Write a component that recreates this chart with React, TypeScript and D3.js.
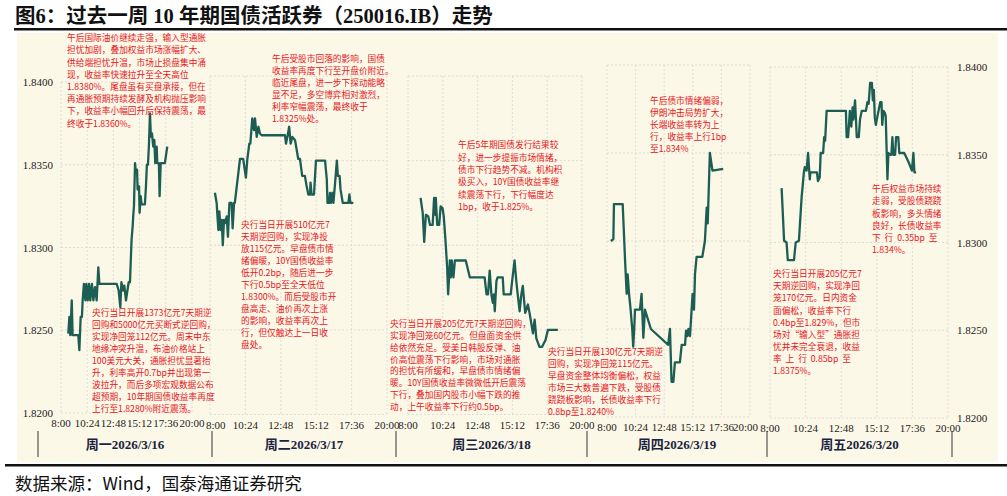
import React from 'react';
import * as d3 from 'd3';

type Pt = [string, number];

const yTicks = [1.82, 1.825, 1.83, 1.835, 1.84];
const xTickLabels = ['8:00', '10:24', '12:48', '15:12', '17:36', '20:00'];
const xTickHours = [8, 10.4, 12.8, 15.2, 17.6, 20];
const dayLabels = ['周一2026/3/16', '周二2026/3/17', '周三2026/3/18', '周四2026/3/19', '周五2026/3/20'];

const mon: Pt[] = [["8:40",1.8248],["8:46",1.8258],["8:51",1.8247],["8:59",1.8268],["9:04",1.8247],["9:35",1.8247],["9:41",1.8238],["9:48",1.8258],["9:55",1.8258],["9:59",1.8268],["10:06",1.8278],["10:14",1.8268],["10:19",1.8278],["10:27",1.8268],["10:34",1.8278],["10:41",1.8268],["10:50",1.8278],["10:58",1.8268],["11:07",1.8276],["11:16",1.8268],["11:25",1.8288],["11:31",1.8278],["13:06",1.8278],["13:17",1.8274],["13:26",1.8264],["13:32",1.8279],["13:41",1.8274],["13:48",1.8277],["13:57",1.8268],["14:05",1.8274],["14:12",1.8279],["14:19",1.8279],["14:28",1.8305],["14:34",1.8313],["14:37",1.8319],["14:41",1.8325],["14:47",1.8351],["14:52",1.8345],["14:58",1.8347],["15:01",1.8335],["15:09",1.8337],["15:12",1.8321],["15:18",1.8331],["15:23",1.8326],["15:41",1.8326],["15:47",1.8337],["15:52",1.8350],["15:58",1.8350],["16:03",1.8361],["16:09",1.8381],["16:14",1.8367],["16:20",1.8369],["16:27",1.8361],["16:33",1.8365],["16:38",1.8351],["16:46",1.8361],["16:49",1.8351],["16:58",1.8351],["17:02",1.8331],["17:08",1.8351],["17:31",1.8351],["17:44",1.8361]];

const tue: Pt[] = [["8:20",1.8331],["8:27",1.8325],["8:34",1.8309],["8:38",1.8320],["8:43",1.8309],["8:48",1.8315],["8:52",1.8300],["8:57",1.8315],["9:01",1.8313],["9:08",1.8317],["9:13",1.8305],["9:19",1.8325],["9:28",1.8325],["9:32",1.8310],["9:38",1.8325],["9:41",1.8325],["10:02",1.8351],["10:15",1.8351],["10:26",1.8340],["10:32",1.8351],["10:40",1.8360],["10:44",1.8360],["10:52",1.8375],["10:59",1.8368],["11:03",1.8375],["11:10",1.8364],["11:17",1.8370],["11:23",1.8366],["11:30",1.8365],["13:05",1.8365],["13:09",1.8360],["13:16",1.8365],["13:22",1.8370],["13:28",1.8360],["13:35",1.8364],["13:46",1.8362],["13:59",1.8351],["14:06",1.8351],["14:15",1.8341],["14:26",1.8341],["14:33",1.8335],["14:40",1.8330],["14:47",1.8330],["14:49",1.8337],["14:53",1.8330],["15:03",1.8330],["15:11",1.8350],["15:48",1.8350],["15:55",1.8339],["15:58",1.8325],["16:05",1.8325],["16:08",1.8331],["16:12",1.8325],["16:18",1.8331],["16:22",1.8325],["16:29",1.8337],["16:36",1.8350],["16:40",1.8341],["16:47",1.8341],["16:51",1.8333],["17:00",1.8325],["17:23",1.8325],["17:27",1.8330],["17:31",1.8325],["17:43",1.8325]];

const wed: Pt[] = [["8:52",1.8328],["9:01",1.8319],["9:07",1.8302],["9:14",1.8318],["9:24",1.8317],["9:31",1.8312],["9:42",1.8312],["9:48",1.8328],["9:53",1.8318],["9:55",1.8328],["10:01",1.8312],["10:09",1.8312],["10:15",1.8323],["10:23",1.8322],["10:28",1.8317],["10:35",1.8303],["10:42",1.8287],["10:46",1.8271],["10:50",1.8281],["10:53",1.8291],["10:57",1.8281],["11:01",1.8291],["11:08",1.8281],["11:14",1.8291],["11:59",1.8291],["12:16",1.8281],["13:17",1.8281],["13:25",1.8271],["13:31",1.8271],["13:38",1.8285],["13:45",1.8271],["13:51",1.8266],["13:55",1.8271],["13:59",1.8261],["14:06",1.8279],["14:11",1.8281],["14:32",1.8281],["14:36",1.8271],["15:05",1.8271],["15:11",1.8279],["15:21",1.8291],["15:28",1.8279],["15:34",1.8271],["15:42",1.8261],["15:49",1.8271],["15:55",1.8276],["16:05",1.8260],["16:16",1.8265],["16:23",1.8260],["16:37",1.8248],["16:44",1.8256],["16:51",1.8245],["17:04",1.8240],["17:15",1.8240],["17:29",1.8244],["17:39",1.8250],["18:20",1.8250]];

const thu: Pt[] = [["8:19",1.8300],["8:32",1.8301],["8:35",1.8321],["9:19",1.8321],["9:31",1.8289],["9:39",1.8270],["9:44",1.8281],["9:51",1.8270],["9:59",1.8261],["10:07",1.8250],["10:12",1.8240],["10:17",1.8250],["10:21",1.8261],["10:46",1.8261],["10:54",1.8270],["11:03",1.8245],["11:11",1.8261],["11:41",1.8250],["13:08",1.8241],["13:17",1.8250],["13:25",1.8220],["13:34",1.8220],["13:42",1.8231],["14:07",1.8231],["14:16",1.8241],["14:33",1.8241],["14:38",1.8249],["14:45",1.8246],["14:50",1.8250],["14:58",1.8246],["15:06",1.8261],["15:11",1.8270],["15:18",1.8261],["15:23",1.8281],["15:31",1.8291],["15:36",1.8291],["15:40",1.8291],["16:00",1.8291],["16:13",1.8300],["16:22",1.8319],["16:27",1.8310],["16:38",1.8350],["16:51",1.8340],["17:45",1.8341]];

const fri: Pt[] = [["8:47",1.8331],["8:57",1.8301],["9:07",1.8300],["9:12",1.8290],["9:37",1.8290],["9:44",1.8300],["9:57",1.8301],["10:08",1.8326],["10:12",1.8332],["10:17",1.8340],["10:21",1.8343],["10:28",1.8341],["10:34",1.8351],["10:41",1.8336],["10:43",1.8340],["11:10",1.8340],["11:14",1.8335],["11:21",1.8337],["11:25",1.8351],["11:35",1.8351],["11:39",1.8360],["11:43",1.8358],["11:49",1.8375],["13:07",1.8375],["13:10",1.8360],["13:16",1.8360],["13:23",1.8375],["13:29",1.8366],["13:34",1.8377],["13:37",1.8370],["13:44",1.8381],["13:51",1.8360],["13:59",1.8360],["14:04",1.8370],["14:11",1.8375],["14:28",1.8375],["14:34",1.8380],["14:39",1.8379],["14:45",1.8391],["14:52",1.8391],["14:56",1.8381],["15:00",1.8387],["15:04",1.8371],["15:08",1.8367],["15:12",1.8370],["15:19",1.8375],["15:26",1.8380],["15:31",1.8380],["15:34",1.8367],["15:39",1.8375],["15:44",1.8374],["15:48",1.8372],["15:55",1.8336],["15:59",1.8351],["16:06",1.8350],["16:11",1.8350],["16:15",1.8360],["16:19",1.8350],["16:26",1.8350],["16:30",1.8360],["16:39",1.8360],["16:43",1.8351],["17:03",1.8351],["17:20",1.8346],["17:34",1.8341],["17:40",1.8351],["17:44",1.8340],["17:51",1.8340]];

const monNoteA = ['午后国际油价继续走强，输入型通胀','担忧加剧，叠加权益市场涨幅扩大、','供给端担忧升温，市场止损盘集中涌','现，收益率快速拉升至全天高位','1.8380%。尾盘虽有买盘承接，但在','再通胀预期持续发酵及机构抛压影响','下，收益率小幅回升后保持震荡，最','终收于1.8360%。'];
const monNoteB = ['央行当日开展1373亿元7天期逆','回购和5000亿元买断式逆回购，','实现净回笼112亿元。周末中东','地缘冲突升温，布油价格站上','100美元大关，通胀担忧显著抬','升，利率高开0.7bp并出现第一','波拉升，而后多项宏观数据公布','超预期，10年期国债收益率再度','上行至1.8280%附近震荡。'];
const tueNoteA = ['午后受股市回落的影响，国债','收益率再度下行至开盘价附近。','临近尾盘，进一步下探动能略','显不足，多空博弈相对激烈，','利率窄幅震荡，最终收于','1.8325%处。'];
const tueNoteB = ['央行当日开展510亿元7','天期逆回购，实现净投','放115亿元。早盘债市情','绪偏暖，10Y国债收益率','低开0.2bp，随后进一步','下行0.5bp至全天低位','1.8300%。而后受股市开','盘高走、油价再次上涨','的影响，收益率再次上','行，但仅触达上一日收','盘处。'];
const wedNoteA = ['午后5年期国债发行结果较','好，进一步提振市场情绪，','债市下行趋势不减。机构积','极买入，10Y国债收益率继','续震荡下行，下行幅度达','1bp，收于1.825%。'];
const wedNoteB = ['央行当日开展205亿元7天期逆回购，','实现净回笼60亿元。但盘面资金供','给依然充足。受美日韩股反弹、油','价高位震荡下行影响，市场对通胀','的担忧有所缓和，早盘债市情绪偏','暖。10Y国债收益率微微低开后震荡','下行，叠加国内股市小幅下跌的推','动，上午收益率下行约0.5bp。'];
const thuNoteA = ['午后债市情绪偏弱，','伊朗冲击局势扩大，','长端收益率转为上','行，收益率上行1bp','至1.834%'];
const thuNoteB = ['央行当日开展130亿元7天期逆','回购，实现净回笼115亿元。','早盘资金整体均衡偏松，权益','市场三大数普遍下跌，受股债','跷跷板影响，长债收益率下行','0.8bp至1.8240%'];
const friNoteA = ['午后权益市场持续','走弱，受股债跷跷','板影响，多头情绪','良好，长债收益率','下  行  0.35bp  至','1.834%。'];
const friNoteB = ['央行当日开展205亿元7','天期逆回购，实现净回','笼170亿元。日内资金','面偏松，收益率下行','0.4bp至1.829%，但市','场对“输入型”通胀担','忧并未完全衰退，收益','率  上  行  0.85bp  至','1.8375%。'];

const panels = [
  { data: mon, x0: 61, x1: 192, yTop: 82, yBot: 413, clipL: 20, clipR: 205, notes: [{ lines: monNoteA, x: 67, y: 38, lh: 12.2 }, { lines: monNoteB, x: 92, y: 313, lh: 12 }] },
  { data: tue, x0: 210, x1: 387, yTop: 76, yBot: 414.5, clipL: 205, clipR: 400, notes: [{ lines: tueNoteA, x: 272, y: 59, lh: 12 }, { lines: tueNoteB, x: 241, y: 225, lh: 12 }] },
  { data: wed, x0: 408, x1: 582, yTop: 76, yBot: 414.5, clipL: 396, clipR: 596, notes: [{ lines: wedNoteA, x: 458, y: 145, lh: 12.4 }, { lines: wedNoteB, x: 390, y: 324, lh: 11.8 }] },
  { data: thu, x0: 607, x1: 750, yTop: 65, yBot: 417, clipL: 594, clipR: 759, notes: [{ lines: thuNoteA, x: 650, y: 101, lh: 12 }, { lines: thuNoteB, x: 548, y: 352, lh: 12 }] },
  { data: fri, x0: 770, x1: 948, yTop: 67, yBot: 418, clipL: 757, clipR: 1000, notes: [{ lines: friNoteA, x: 872, y: 189, lh: 12.2 }, { lines: friNoteB, x: 773, y: 274, lh: 12.1 }] },
];

const separators = [38, 212, 396, 587, 767, 952];

const toHour = (s: string) => {
  const [h, m] = s.split(':').map(Number);
  return h + m / 60;
};

const SERIF = '"Liberation Serif", "Times New Roman", serif';
const CJK = '"Noto Sans CJK SC", sans-serif';
const LINE = '#1d5e54';
const RED = '#e8141c';
const GRID = '#d6d6d6';

export default function App() {
  return (
    <svg width={1007} height={496} style={{ position: 'absolute', left: 0, top: 0, background: '#fff' }}>
      <text x={15} y={23} fontFamily={`${SERIF}, ${CJK}`} fontWeight={700} fontSize={20.5} fill="#111">
        图6：过去一周 10 年期国债活跃券（250016.IB）走势
      </text>
      <rect x={14} y={28} width={993} height={2.5} fill="#111" />
      <rect x={17} y={33} width={981} height={429} fill="#fcf8e7" />

      {panels.map((p, i) => {
        const x = d3.scaleLinear().domain([8, 20]).range([p.x0, p.x1]);
        const y = d3.scaleLinear().domain([1.82, 1.84]).range([p.yBot, p.yTop]);
        const line = d3.line<Pt>().x(d => x(toHour(d[0]))).y(d => y(d[1]));
        const labelPos = (t: number) => {
          const cx = x(t);
          const half = 11;
          if (cx - half < p.clipL) return { lx: p.clipL + 1, anchor: 'start' as const };
          if (cx + half > p.clipR) return { lx: p.clipR - 1, anchor: 'end' as const };
          return { lx: cx, anchor: 'middle' as const };
        };
        return (
          <g key={i}>
            {yTicks.map(t => (
              <line key={'h' + t} x1={p.x0} x2={p.x1} y1={y(t)} y2={y(t)} stroke={GRID} strokeWidth={0.8} strokeDasharray="2,2" />
            ))}
            {xTickHours.map(t => (
              <line key={'v' + t} x1={x(t)} x2={x(t)} y1={p.yTop} y2={p.yBot} stroke={GRID} strokeWidth={0.8} strokeDasharray="2,2" />
            ))}
            {xTickHours.map((t, j) => {
              const { lx, anchor } = labelPos(t);
              return (
                <text key={'xl' + t} x={lx} y={p.yBot + 14} textAnchor={anchor} fontFamily={SERIF} fontSize={11} fill="#222">
                  {xTickLabels[j]}
                </text>
              );
            })}
            {i === 0 && yTicks.map(t => (
              <text key={'yl' + t} x={53} y={y(t) + 4} textAnchor="end" fontFamily={SERIF} fontSize={11} fill="#222">{t.toFixed(4)}</text>
            ))}
            {i === 4 && yTicks.map(t => (
              <text key={'yr' + t} x={957} y={y(t) + 4} textAnchor="start" fontFamily={SERIF} fontSize={11} fill="#222">{t.toFixed(4)}</text>
            ))}
            <path d={line(p.data) || ''} fill="none" stroke={LINE} strokeWidth={2.3} strokeLinejoin="round" />
            {p.notes.map((n, k) => (
              <g key={'n' + k}>
                {n.lines.map((l, m) => (
                  <text key={m} x={n.x} y={n.y + m * n.lh + 3.2} fontFamily={CJK} fontSize={8.7} fill={RED} style={{ whiteSpace: 'pre' }}>{l}</text>
                ))}
              </g>
            ))}
          </g>
        );
      })}

      {separators.map(s => (
        <line key={s} x1={s} x2={s} y1={431} y2={457} stroke="#333" strokeWidth={1} />
      ))}
      {dayLabels.map((d, i) => (
        <text key={d} x={(separators[i] + separators[i + 1]) / 2} y={449} textAnchor="middle" fontFamily={`${SERIF}, ${CJK}`} fontWeight={700} fontSize={13} fill="#1a2340">
          {d}
        </text>
      ))}
      <rect x={5} y={464} width={1002} height={2.5} fill="#111" />
      <text x={15} y={490} fontFamily={CJK} fontSize={17.5} fill="#111">数据来源：Wind，国泰海通证券研究</text>
    </svg>
  );
}
